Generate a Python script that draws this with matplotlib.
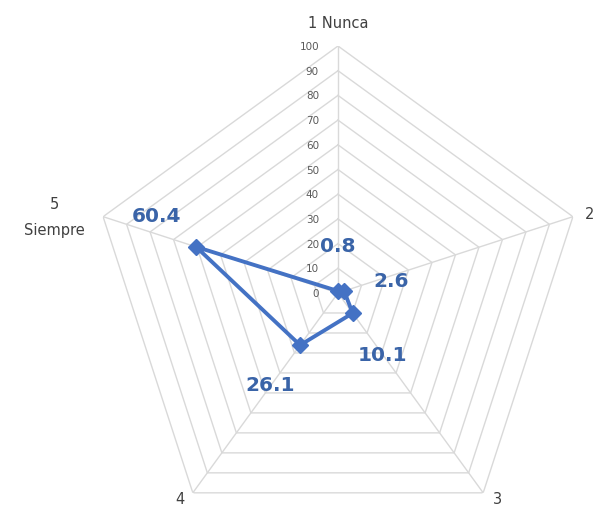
import numpy as np
import matplotlib
matplotlib.use("Agg")
import matplotlib.pyplot as plt

categories = ["1 Nunca", "2", "3", "4", "5\nSiempre"]
values = [0.8, 2.6, 10.1, 26.1, 60.4]
ticks = [0, 10, 20, 30, 40, 50, 60, 70, 80, 90, 100]

LINE = "#4472c4"
GRID = "#d9d9d9"

fig = plt.figure(figsize=(5.97, 5.10), dpi=100)
W, H = 597, 510
cx, cy, R = 338, 294, 247
ax = fig.add_axes([(cx - R) / W, (H - cy - R) / H, 2 * R / W, 2 * R / H], projection="polar")
ax.set_theta_zero_location("N")
ax.set_theta_direction(-1)
ax.set_ylim(0, 100)
ax.grid(False)
ax.set_xticks([])
ax.set_yticks([])
ax.spines["polar"].set_visible(False)
ax.patch.set_alpha(0)

n = len(categories)
angles = np.arange(n) * 2 * np.pi / n
closed = np.append(angles, angles[0])

for t in ticks[1:]:
    ax.plot(closed, [t] * (n + 1), color=GRID, lw=1.0, zorder=1)
for a in angles:
    ax.plot([a, a], [0, ticks[-1]], color=GRID, lw=1.0, zorder=1)

vals_closed = values + [values[0]]
ax.plot(closed, vals_closed, color=LINE, lw=2.8, zorder=3)
ax.plot(angles, values, color=LINE, lw=0, marker="D", ms=8.5, zorder=4)

for t in ticks:
    ax.annotate(str(t), xy=(0, t), xytext=(-19, 0), textcoords="offset pixels",
                ha="right", va="center", fontsize=7.5, color="#595959", zorder=2)

cat_offsets = [(0, 24), (17, 3), (14, -6), (-13, -6), (-49, 0)]
for a, c, off in zip(angles, categories, cat_offsets):
    ax.annotate(c, xy=(a, ticks[-1]), xytext=off, textcoords="offset pixels",
                ha="center", va="center", fontsize=10.5, color="#404040",
                linespacing=1.9, annotation_clip=False)

label_offsets = [(0, 46), (47, 11), (30, -41), (-30, -39), (-40, 31)]
for a, v, off in zip(angles, values, label_offsets):
    ax.annotate(f"{v}", xy=(a, v), xytext=off, textcoords="offset pixels",
                ha="center", va="center", fontsize=14.5, color="#3a64a8",
                fontweight="bold", zorder=5)

fig.savefig("out.png", dpi=100)
